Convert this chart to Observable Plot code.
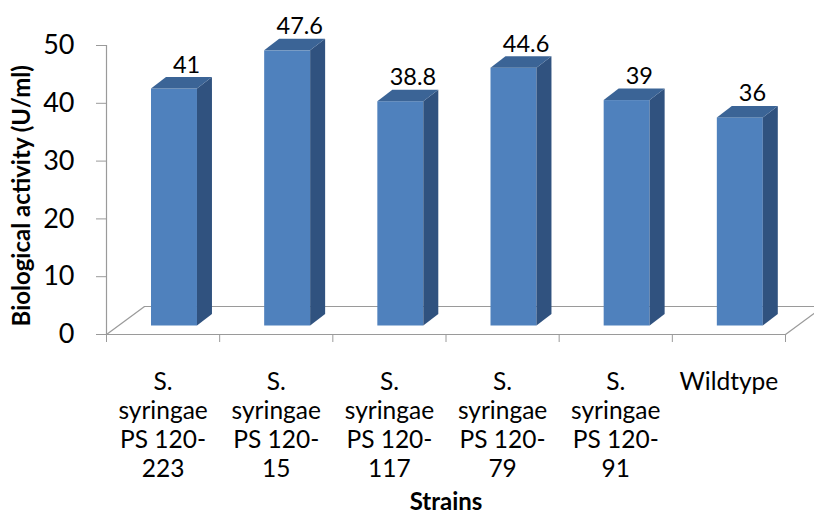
<!DOCTYPE html>
<html><head><meta charset="utf-8">
<script src="https://cdn.jsdelivr.net/npm/d3@7"></script>
<script src="https://cdn.jsdelivr.net/npm/@observablehq/plot@0.6"></script>
<style>body{margin:0;background:#fff}</style>
</head><body><div id="chart"></div>
<script>
// ---- data ----
const strains = [
  "S.\nsyringae\nPS 120-\n223",
  "S.\nsyringae\nPS 120-\n15",
  "S.\nsyringae\nPS 120-\n117",
  "S.\nsyringae\nPS 120-\n79",
  "S.\nsyringae\nPS 120-\n91",
  "Wildtype"
];
const activity = [41, 47.6, 38.8, 44.6, 39, 36];
const valueLabels = ["41", "47.6", "38.8", "44.6", "39", "36"];
const yTicks = [0, 10, 20, 30, 40, 50];
const yTitle = "Biological activity (U/ml)";
const xTitle = "Strains";

// ---- layout / style ----
const W = 814, H = 514, mL = 106, mR = 29, mT = 45, mB = 180;
const XU = (W - mL - mR) / strains.length;   // px per category
const YU = (H - mT - mB) / 50;                // px per unit
const FRONT = {dx: 11.5, dy: -8.5};           // bar front plane shift (px)
const DEPTH_X = 15, DEPTH_Y = 11.5;           // bar depth (px)
const FLOOR_X = 38, FLOOR_Y = 28;             // floor depth (px)
const INSET_L = 33.5, INSET_R = 33.7;
const GRID = "#9a9a9a";
const C_FRONT = "#4F81BD", C_SIDE = "#30527F", C_TOP = "#3B6496";

const bars = strains.map((s, i) => ({i, strain: s, value: activity[i], label: valueLabels[i]}));
const sidePts = bars.flatMap(d => {
  const xr = d.i + 1 - INSET_R / XU;
  return [
    {i: d.i, x: xr, y1: 0, y2: d.value},
    {i: d.i, x: xr + DEPTH_X / XU, y1: DEPTH_Y / YU, y2: d.value + DEPTH_Y / YU}
  ];
});
const topPts = bars.flatMap(d => {
  const xl = d.i + INSET_L / XU, xr = d.i + 1 - INSET_R / XU;
  return [
    {i: d.i, y: d.value, x1: xl, x2: xr},
    {i: d.i, y: d.value + DEPTH_Y / YU, x1: xl + DEPTH_X / XU, x2: xr + DEPTH_X / XU}
  ];
});

const plot = Plot.plot({
  width: W, height: H,
  marginLeft: mL, marginRight: mR, marginTop: mT, marginBottom: mB,
  style: {fontFamily: "Lato, sans-serif", background: "#fff", color: "#000", overflow: "visible"},
  x: {type: "linear", domain: [0, strains.length]},
  y: {domain: [0, 50]},
  marks: [
    // floor
    Plot.ruleY([0], {stroke: GRID, strokeWidth: 1.2}),
    Plot.ruleY([0], {stroke: GRID, strokeWidth: 1.2, dx: FLOOR_X, dy: -FLOOR_Y}),
    Plot.link([0], {x1: 0, y1: 0, x2: FLOOR_X / XU, y2: FLOOR_Y / YU, stroke: GRID, strokeWidth: 1.2}),
    Plot.link([0], {x1: strains.length, y1: 0, x2: strains.length + FLOOR_X / XU, y2: FLOOR_Y / YU, stroke: GRID, strokeWidth: 1.2}),
    // y axis line
    Plot.ruleX([0], {y1: 0, y2: 50, stroke: GRID, strokeWidth: 1.2}),
    Plot.axisY({ticks: yTicks, tickSize: 10, tickPadding: 22, fontSize: 27, stroke: GRID, fill: "#000", label: null}),
    // x ticks at category boundaries
    Plot.axisX({ticks: d3.range(strains.length + 1), tickSize: 8, tickFormat: () => "", stroke: GRID, label: null}),
    // bars
    Plot.rectY(bars, {x1: d => d.i, x2: d => d.i + 1, y1: 0, y2: "value", insetLeft: INSET_L, insetRight: INSET_R, fill: C_FRONT, ...FRONT}),
    Plot.areaY(sidePts, {x: "x", y1: "y1", y2: "y2", z: "i", fill: C_SIDE, ...FRONT}),
    Plot.areaX(topPts, {y: "y", x1: "x1", x2: "x2", z: "i", fill: C_TOP, ...FRONT}),
    // value labels
    Plot.text(bars, {x: d => d.i + 0.5, y: "value", text: "label", dx: 23.5, dy: -25, lineAnchor: "bottom", fontSize: 23.5, fill: "#000"}),
    // category labels
    Plot.text(bars, {x: d => d.i + 0.5, y: 0, text: "strain", lineAnchor: "top", dy: 35, fontSize: 24.5, lineHeight: 29 / 24.5, fill: "#000"}),
    // titles
    Plot.text([yTitle], {x: -84 / XU, y: 24, rotate: -90, textAnchor: "middle", fontWeight: "bold", fontSize: 24, fill: "#000"}),
    Plot.text([xTitle], {x: strains.length / 2, y: 0, dy: 168, textAnchor: "middle", fontWeight: "bold", fontSize: 24, fill: "#000"})
  ]
});
document.getElementById("chart").appendChild(plot);
</script>
</body></html>
